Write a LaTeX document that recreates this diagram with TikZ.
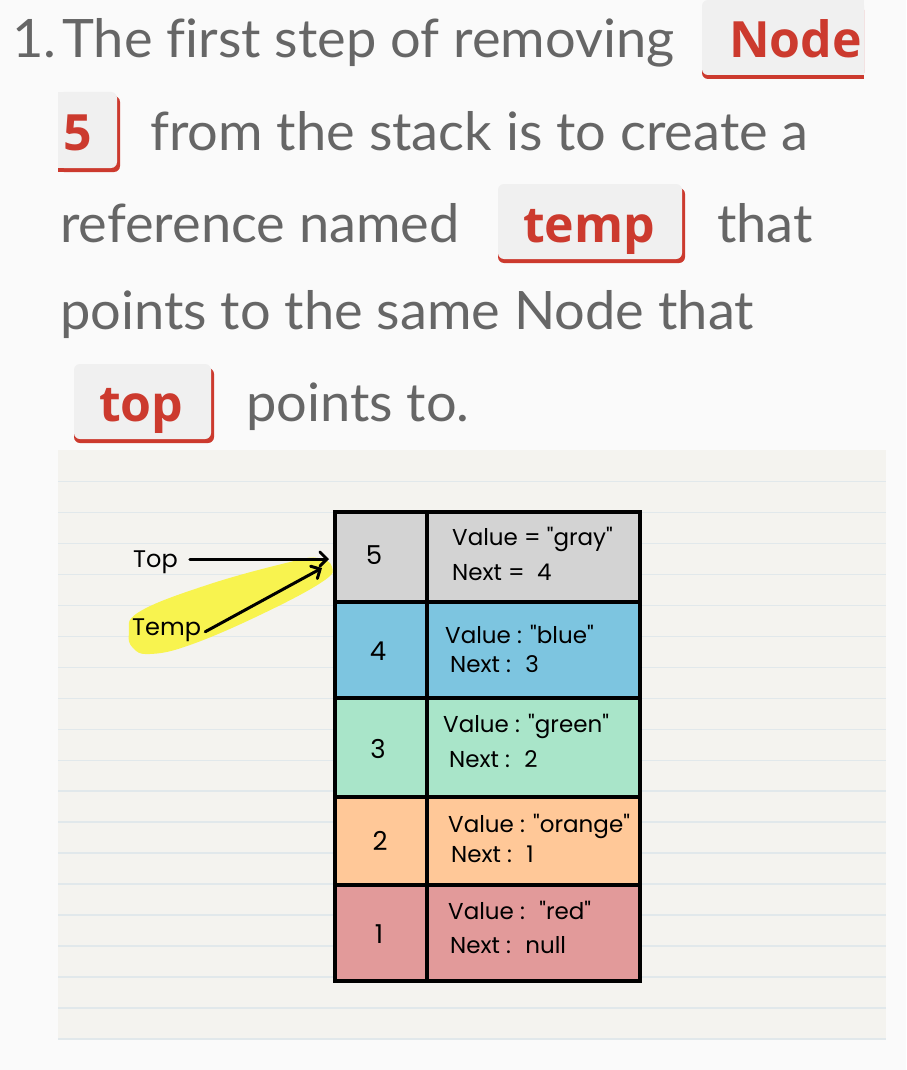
\documentclass[tikz,border=0pt]{standalone}
\usepackage{fontspec}
\setmainfont{Lato}[FakeStretch=1.022,Ligatures=NoCommon]
\newfontfamily\chipfont{Open Sans}
\newfontfamily\handfont{Poppins}
\usetikzlibrary{arrows.meta,shapes.geometric}
\definecolor{pagebg}{HTML}{FAFAFA}
\definecolor{panelbg}{HTML}{F4F3EF}
\definecolor{ruleline}{HTML}{E1E8EB}
\definecolor{txtgray}{HTML}{666666}
\definecolor{chipbg}{HTML}{F0F0F0}
\definecolor{chipred}{HTML}{CC3A2E}
\definecolor{rowgray}{HTML}{D3D3D3}
\definecolor{rowblue}{HTML}{7DC5E0}
\definecolor{rowgreen}{HTML}{A9E5C9}
\definecolor{roworange}{HTML}{FFC898}
\definecolor{rowred}{HTML}{E29A9A}
\definecolor{hilite}{HTML}{F8F34F}
\begin{document}
\begin{tikzpicture}[x=1pt,y=-1pt,
  prose/.style={anchor=base west,inner sep=0pt,text=txtgray,font=\fontsize{53}{60}\selectfont},
  chiptext/.style={anchor=base west,inner sep=0pt,text=chipred,font=\chipfont\bfseries\fontsize{50}{60}\selectfont},
  hand/.style={anchor=base west,inner sep=0pt,text=black,font=\handfont\fontsize{23}{26}\selectfont},
  ptrlabel/.style={anchor=base west,inner sep=0pt,text=black,font=\handfont\fontsize{24}{26}\selectfont},
  numtext/.style={inner sep=0pt,text=black,font=\handfont\fontsize{26}{28}\selectfont},
  harrow/.style={line width=3pt,line cap=round,-{Straight Barb[length=7pt,width=14pt,line cap=round]}},
  grid/.style={line width=4pt,black}]
\useasboundingbox (0,0) rectangle (906,1070);
\fill[pagebg] (0,0) rectangle (906,1070);

% ---- chips ----
% Node (cut on right)
\fill[chipred,rounded corners=6pt] (702,4) rectangle (864,79);
\fill[chipred] (830,4) rectangle (864,79);
\fill[chipbg,rounded corners=6pt] (702,0) rectangle (864,75);
\fill[chipbg] (830,0) rectangle (864,75);
% 5 (cut on left)
\fill[chipred,rounded corners=6pt] (58,96) rectangle (120,172);
\fill[chipred] (58,96) rectangle (85,172);
\fill[chipbg,rounded corners=6pt] (58,92) rectangle (117,168);
\fill[chipbg] (58,92) rectangle (85,168);
% temp
\fill[chipred,rounded corners=6pt] (498,188) rectangle (685,263);
\fill[chipbg,rounded corners=6pt] (498,184) rectangle (682,259);
% top
\fill[chipred,rounded corners=6pt] (74,368) rectangle (214,443);
\fill[chipbg,rounded corners=6pt] (74,364) rectangle (211,439);

% ---- prose ----
\node[prose] (num) at (12,58) {1.};
\node[prose] (l1) at (62,58) {The first step of removing};
\node[chiptext] (cNode) at (729,58) {Node};
\node[chiptext] (c5) at (63,150) {5};
\node[prose] (l2) at (150,150) {from the stack is to create a};
\node[prose] (l3a) at (60,242) {reference named};
\node[chiptext] (cTemp) at (523,242) {temp};
\node[prose] (l3b) at (717,242) {that};
\node[prose] (l4) at (60,329) {points to the same Node that};
\node[chiptext] (cTop) at (99,421) {top};
\node[prose] (l5) at (246,421) {points to.};

% ---- notebook panel ----
\fill[panelbg] (58,450) rectangle (886,1040);
\foreach \k in {0,...,18}
  \draw[ruleline,line width=1.5pt] (58,481.7+30.95*\k) -- (886,481.7+30.95*\k);

% ---- highlight ----
\fill[hilite] plot[smooth cycle,tension=0.7] coordinates {(129,633) (139,612) (207,585) (290,562) (318,558) (332,567) (322,582) (260,615) (190,645) (150,654) (133,648)};

% ---- table ----
\fill[rowgray]   (335,512)   rectangle (640,601.5);
\fill[rowblue]   (335,601.5) rectangle (640,697.5);
\fill[rowgreen]  (335,697.5) rectangle (640,796.5);
\fill[roworange] (335,796.5) rectangle (640,885);
\fill[rowred]    (335,885)   rectangle (640,980.5);
\draw[grid] (335,512) rectangle (640,980.5);
\draw[grid] (427,512) -- (427,980.5);
\foreach \yy in {601.5,697.5,796.5,885}
  \draw[grid] (335,\yy) -- (640,\yy);

\node[numtext] (n5) at (374,555) {5};
\node[numtext] (n4) at (378,651) {4};
\node[numtext] (n3) at (378,749) {3};
\node[numtext] (n2) at (380,841) {2};
\node[numtext] (n1) at (379,934) {1};

\node[hand] (v5) at (452,545) {Value = "gray"};
\node[hand] (x5) at (452,580) {Next = \ 4};
\node[hand] (v4) at (445,643) {Value : "blue"};
\node[hand] (x4) at (450,672) {Next : \ 3};
\node[hand] (v3) at (443,732) {Value : "green"};
\node[hand] (x3) at (449,767) {Next : \ 2};
\node[hand] (v2) at (448,832) {Value : "orange"};
\node[hand] (x2) at (451,862) {Next : \ 1};
\node[hand] (v1) at (448,919) {Value : \ "red"};
\node[hand] (x1) at (450,953) {Next : \ null};

% ---- pointers ----
\node[ptrlabel] (topl) at (133,567) {Top};
\node[ptrlabel] (templ) at (132,635) {Temp};
\coordinate (topend) at (329,559);
\coordinate (tempend) at (322,568);
\draw[harrow] ([xshift=12pt]topl.east |- topend) -- (topend);
\draw[harrow] ([xshift=4pt,yshift=-2pt]templ.east) -- (tempend);
\end{tikzpicture}
\end{document}
